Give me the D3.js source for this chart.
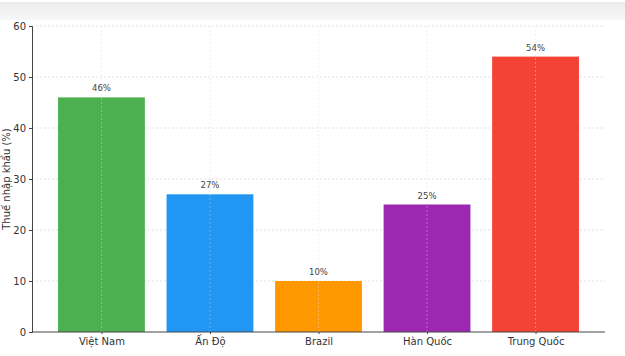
<!DOCTYPE html>
<html><head><meta charset="utf-8">
<script src="https://cdn.jsdelivr.net/npm/d3@7"></script>
<style>body{margin:0;background:#fff}svg{display:block}</style>
</head><body><svg id="c" width="625" height="356"></svg>
<script>
const categories = ["Việt Nam", "Ấn Độ", "Brazil", "Hàn Quốc", "Trung Quốc"];
const values = [46, 27, 10, 25, 54];
const colors = ["#4CAF50", "#2196F3", "#FF9800", "#9C27B0", "#F44336"];
const yTicks = [0, 10, 20, 30, 40, 50, 60];
const yLabel = "Thuế nhập khẩu (%)";

const svg = d3.select("#c");
const font = "DejaVu Sans, sans-serif";
const defs = svg.append("defs");
const g0 = defs.append("linearGradient").attr("id","band").attr("x1",0).attr("y1",0).attr("x2",0).attr("y2",1);
g0.append("stop").attr("offset","0%").attr("stop-color","#ececec");
g0.append("stop").attr("offset","100%").attr("stop-color","#f7f7f7");
svg.append("rect").attr("x",0).attr("y",2).attr("width",625).attr("height",18).attr("fill","url(#band)");

const L = 32, R = 605, T = 26, B = 332;
const x = d3.scaleLinear().domain([-0.64, 4.64]).range([L, R]);
const y = d3.scaleLinear().domain([0, 60]).range([B, T]);
const bw = x(0.4) - x(-0.4);

// horizontal grid
svg.append("g").selectAll("line").data(yTicks.filter(d=>d>0)).join("line")
  .attr("x1", L).attr("x2", R).attr("y1", d=>y(d)).attr("y2", d=>y(d))
  .attr("stroke", "#dcdcdc").attr("stroke-width", 0.8).attr("stroke-dasharray", "2,2");

// bars
svg.append("g").selectAll("rect").data(values).join("rect")
  .attr("x", (d,i)=>x(i)-bw/2).attr("width", bw)
  .attr("y", d=>y(d)).attr("height", d=>B-y(d))
  .attr("fill", (d,i)=>colors[i]);

// vertical grid (over bars, light)
svg.append("g").selectAll("line").data(categories).join("line")
  .attr("x1", (d,i)=>x(i)).attr("x2", (d,i)=>x(i)).attr("y1", T).attr("y2", B)
  .attr("stroke", "#dcdcdc").attr("stroke-opacity",0.5).attr("stroke-width", 0.8).attr("stroke-dasharray", "2,2");

// value labels
svg.append("g").selectAll("text").data(values).join("text")
  .attr("x", (d,i)=>x(i)).attr("y", d=>y(d)-6)
  .attr("text-anchor","middle").attr("font-family",font).attr("font-size",8.5)
  .attr("fill","#444").text(d=>d+"%");

// axes
const yAxis = d3.axisLeft(y).tickValues(yTicks).tickSize(3).tickPadding(3);
const ya = svg.append("g").attr("transform",`translate(${L},0)`).call(yAxis);
ya.selectAll("text").attr("font-family",font).attr("font-size",10).attr("fill","#333");
ya.selectAll("line,path").attr("stroke","#444");

const xAxis = d3.axisBottom(x).tickValues(d3.range(categories.length)).tickFormat(i=>categories[i]).tickSize(2).tickPadding(4);
const xa = svg.append("g").attr("transform",`translate(0,${B})`).call(xAxis);
xa.select(".domain").attr("d", `M${L},0H${R}`);
xa.selectAll("text").attr("font-family",font).attr("font-size",10).attr("fill","#333");
xa.selectAll("line,path").attr("stroke","#444");

svg.append("text").attr("transform",`translate(10,${(T+B)/2}) rotate(-90)`)
  .attr("text-anchor","middle").attr("font-family",font).attr("font-size",10)
  .attr("fill","#333").text(yLabel);
</script></body></html>
